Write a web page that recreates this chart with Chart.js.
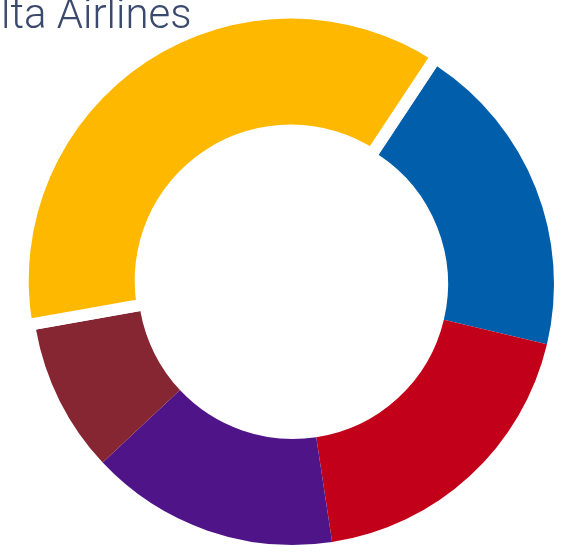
<!DOCTYPE html>
<html>
<head>
<meta charset="utf-8">
<script src="https://cdn.jsdelivr.net/npm/chart.js@4"></script>
<style>
  html, body { margin: 0; padding: 0; background: #ffffff; overflow: hidden; }
  #wrap { position: relative; width: 574px; height: 554px; overflow: hidden; }
  #title {
    position: absolute;
    top: -7px;
    left: 0;
    font-family: Roboto, 'Liberation Sans', sans-serif;
    font-weight: 300;
    font-size: 42px;
    line-height: 42px;
    color: #3a4a6e;
    white-space: nowrap;
    z-index: 2;
  }
  canvas { position: absolute; left: 0; top: 0; }
</style>
</head>
<body>
<div id="wrap">
  <div id="title">Delta Airlines</div>
  <canvas id="chart" width="574" height="554"></canvas>
</div>
<script>
// share of each segment (%), read clockwise starting from the blue slice
const labels = ['Blue', 'Red', 'Purple', 'Maroon', 'Gold'];
const shares = [19.4, 18.9, 15.4, 9.2, 37.1];
const sliceColors = ['#005EAA', '#C3001A', '#4F1588', '#862633', '#FEB800'];
const sliceOffsets = [0, 0, 0, 0, 16];

const GAP_SLICE = 4;   // the pulled-out gold slice
const GAP_WIDTH = 12;  // white gap on each side of it, px

// shift the title so the visible text starts with "lta"
(function placeTitle() {
  const el = document.getElementById('title');
  const ctx = document.createElement('canvas').getContext('2d');
  ctx.font = '300 42px Roboto, "Liberation Sans", sans-serif';
  const cut = ctx.measureText('De').width;
  el.style.left = (1 - cut) + 'px';
})();

// paint a white strip along each edge of the pulled-out slice
const sliceGapPlugin = {
  id: 'sliceGap',
  afterDatasetsDraw(chart) {
    const arc = chart.getDatasetMeta(0).data[GAP_SLICE];
    if (!arc) return;
    const x = arc.x;
    const y = arc.y;
    const r0 = arc.innerRadius - 12;
    const r1 = arc.outerRadius + 24;
    const ctx = chart.ctx;
    ctx.save();
    ctx.fillStyle = '#ffffff';
    [[arc.startAngle, 1], [arc.endAngle, -1]].forEach(([a, dir]) => {
      const ux = Math.cos(a);
      const uy = Math.sin(a);
      const nx = -uy * dir * GAP_WIDTH;
      const ny = ux * dir * GAP_WIDTH;
      ctx.beginPath();
      ctx.moveTo(x + ux * r0, y + uy * r0);
      ctx.lineTo(x + ux * r1, y + uy * r1);
      ctx.lineTo(x + ux * r1 + nx, y + uy * r1 + ny);
      ctx.lineTo(x + ux * r0 + nx, y + uy * r0 + ny);
      ctx.closePath();
      ctx.fill();
    });
    ctx.restore();
  },
};

new Chart(document.getElementById('chart'), {
  type: 'doughnut',
  data: {
    labels,
    datasets: [{
      data: shares,
      backgroundColor: sliceColors,
      borderWidth: 0,
      offset: sliceOffsets,
      hoverOffset: 0,
    }],
  },
  options: {
    responsive: false,
    animation: false,
    rotation: 33.5,
    radius: 261,
    cutout: '59.4%',
    layout: { padding: { top: 14, left: 12, right: 0, bottom: 0 } },
    plugins: {
      legend: { display: false },
      tooltip: { enabled: true },
    },
  },
  plugins: [sliceGapPlugin],
});
</script>
</body>
</html>
